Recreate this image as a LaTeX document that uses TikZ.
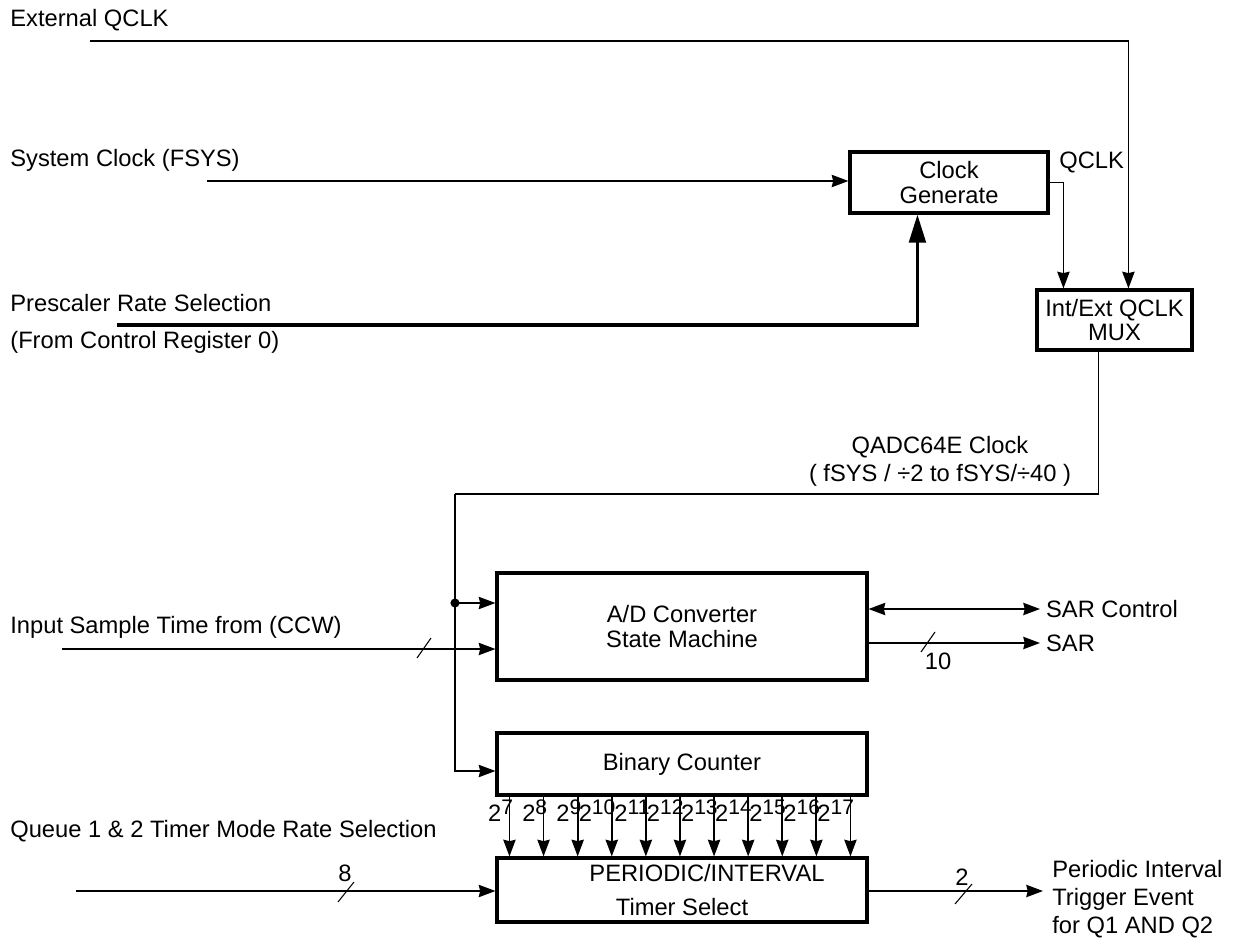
\documentclass[tikz,border=0pt]{standalone}
\usepackage{fontspec}
\setmainfont{Liberation Sans}
\usetikzlibrary{positioning,arrows.meta,calc}
\newcommand\binexp[1]{2\raisebox{4pt}{\fontsize{12}{13}\selectfont #1}}

\begin{document}
\begin{tikzpicture}[x=0.02cm, y=-0.02cm,
  font=\fontsize{13.5}{14}\selectfont,
  blk/.style={draw, line width=1.8pt, align=center, inner sep=0pt},
  wire/.style={line width=1pt},
  tip/.tip={Stealth[length=9.5pt, width=7pt, inset=0.8pt]},
  arr/.style={wire, -tip},
  lbl/.style={anchor=west, inner sep=0pt},
  busmark/.style={line width=0.6pt}]
\useasboundingbox (0,0) rectangle (1234,939);

% ブロック
\node[blk, minimum width=3.96cm, minimum height=1.22cm] (clkgen) at (949,182.5) {Clock\\Generate};
\node[blk, minimum width=3.1cm, minimum height=1.2cm] (mux) at (1114.5,320) {Int/Ext QCLK\\MUX};
\node[blk, minimum width=7.4cm, minimum height=2.14cm] (adc) at (682,626.5) {A/D Converter\\State Machine};
\node[blk, minimum width=7.4cm, minimum height=1.24cm] (bincnt) at (682,764) {Binary Counter};
\node[blk, minimum width=7.4cm, minimum height=1.28cm] (timer) at (682,890) {\hspace*{1cm}PERIODIC/INTERVAL\\[5pt]Timer Select};

% 入力
\node[lbl] (extlbl) at (10,20) {External QCLK};
\node[lbl] (syslbl) at (10,160) {System Clock (FSYS)};
\node[lbl] (prelbl) at (10,303) {Prescaler Rate Selection};
\node[lbl] (reglbl) at (10,342) {(From Control Register 0)};
\node[lbl] (smplbl) at (10,627) {Input Sample Time from (CCW)};
\node[lbl] (quelbl) at (10,831) {Queue 1 \& 2 Timer Mode Rate Selection};

\coordinate (extin) at (90,41);
\coordinate (sysin) at (207,181);
\coordinate (prein) at (117,325);
\coordinate (smpin) at (62,649);
\coordinate (quein) at (76,891);

\draw[arr] (extin) -| ($(mux.north west)+(93,0)$);
\draw[arr] (sysin) -- (sysin -| clkgen.west);
\draw[line width=1.8pt, -{Triangle[length=16pt, width=9.5pt]}] (prein) -| ($(clkgen.south west)+(69,0)$);
\draw[arr] (clkgen.east) -| ($(mux.north west)+(28,0)$);
\node[lbl] (qclklbl) at (1059,162) {QCLK};

% クロック分配
\coordinate (split) at (455,494);
\coordinate (tap) at (455,603);
\draw[wire] ($(mux.south)+(-16,0)$) |- (split);
\draw[arr] (split) |- ($(bincnt.west)+(0,7)$);
\draw[arr] (tap) -- (tap -| adc.west);
\fill (tap) circle[radius=2.6pt];
\node[align=center, font=\fontsize{13.5}{16}\selectfont] (adclk) at (940,461) {QADC64E Clock\\( fSYS / ÷2 to fSYS/÷40 )};

% サンプル時間
\draw[arr] (smpin) -- (smpin -| adc.west);
\draw[busmark] (417,658) -- ++(14,-20);

% SAR
\coordinate (sarc) at (1040,609);
\coordinate (sar) at (1040,643);
\draw[wire, tip-tip] (sarc -| adc.east) -- (sarc) node[lbl, xshift=3pt] (sarclbl) {SAR Control};
\draw[arr] (sar -| adc.east) -- (sar) node[lbl, xshift=3pt] (sarlbl) {SAR};
\draw[busmark] (921,652) -- ++(14,-20);
\node (sarbits) at (938,661) {10};

% カウンタ出力
\foreach \i in {0,...,10}{
  \pgfmathtruncatemacro\e{\i+7}
  \coordinate (b\i) at ($(bincnt.south west)+(14+34.1*\i,0)$);
  \draw[arr] (b\i) -- (b\i |- timer.north);
  \node[anchor=base east, inner sep=0pt] (e\i) at ($(b\i)+(4,25)$) {\binexp{\e}};
}

% タイマー入出力
\draw[arr] (quein) -- (quein -| timer.west);
\draw[busmark] (338,902) -- ++(16,-20);
\node (quebits) at (345,873) {8};
\coordinate (trig) at (1043,891);
\draw[arr] (trig -| timer.east) -- (trig);
\draw[busmark] (955,904) -- ++(17,-20);
\node (trigbits) at (962,877) {2};
\node[lbl, align=left, font=\fontsize{13.5}{16}\selectfont] (triglbl) at (1052,899) {Periodic Interval\\Trigger Event\\for Q1 AND Q2};
\end{tikzpicture}
\end{document}
